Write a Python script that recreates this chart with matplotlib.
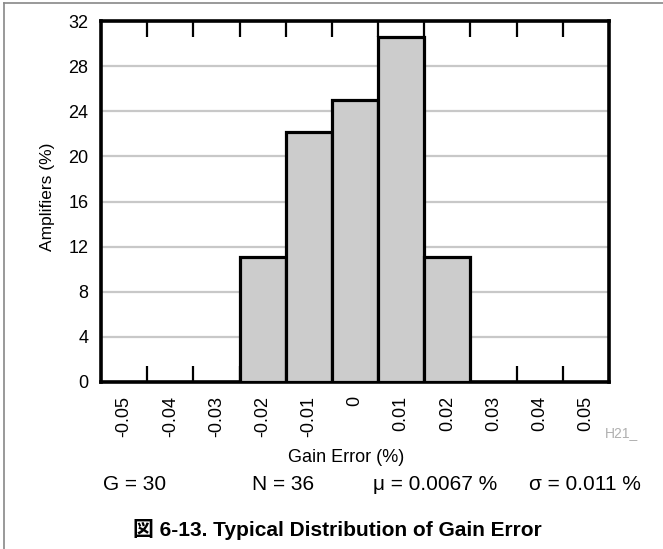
import numpy as np
import matplotlib.pyplot as plt

# histogram data
bin_centers = [-0.02, -0.01, 0.0, 0.01, 0.02]
amplifiers = [11.1, 22.2, 25.0, 30.6, 11.1]
tick_labels = ['-0.05', '-0.04', '-0.03', '-0.02', '-0.01', '0',
               '0.01', '0.02', '0.03', '0.04', '0.05']
stats = ['G = 30', 'N = 36', 'μ = 0.0067 %', 'σ = 0.011 %']

plt.rcParams['font.family'] = ['Liberation Sans', 'DejaVu Sans']

W, H = 663, 549
fig = plt.figure(figsize=(W / 100, H / 100), dpi=100)
# axes box in pixels: left 101, right 609, top 21, bottom 382
ax = fig.add_axes([101 / W, 1 - 382 / H, 508 / W, 361 / H])

ax.bar(bin_centers, amplifiers, width=0.01, color='#cccccc',
       edgecolor='black', linewidth=2.3, zorder=3)

ax.set_xlim(-0.055, 0.055)
ax.set_ylim(0, 32)

# labels at bin centres, marks at bin edges
centers = np.round(np.arange(-0.05, 0.0501, 0.01), 3)
edges = np.round(np.arange(-0.045, 0.0451, 0.01), 3)
ax.set_xticks(centers)
ax.set_xticklabels(tick_labels, rotation=90, fontsize=13)
ax.set_xticks(edges, minor=True)
ax.tick_params(axis='x', which='major', length=0, pad=10)
ax.tick_params(axis='x', which='minor', direction='in', length=11.5,
               width=1.6, color='black', top=True, bottom=True)

ax.set_yticks(np.arange(0, 33, 4))
ax.tick_params(axis='y', length=0, pad=9, labelsize=13)
ax.yaxis.grid(True, color='#c8c8c8', linewidth=1.6)
ax.set_axisbelow(True)

for s in ax.spines.values():
    s.set_linewidth(2.6)

ax.set_ylabel('Amplifiers (%)', fontsize=12.5, va='center')
ax.yaxis.set_label_coords(-0.106, 0.514)
ax.set_xlabel('Gain Error (%)', fontsize=13, va='center')
ax.xaxis.set_label_coords(0.483, -0.208)

fig.text(605 / W, 1 - 433 / H, 'H21_', fontsize=10, color='#b0b0b0',
         va='center')

# statistics row under the chart
stat_x = [103, 252, 373, 529]
for x, s in zip(stat_x, stats):
    fig.text(x / W, 1 - 484 / H, s, fontsize=15, va='center')

fig.text(337 / W, 1 - 530 / H, '図 6-13. Typical Distribution of Gain Error',
         fontsize=15, fontweight='bold', ha='center', va='center',
         family=['Liberation Sans', 'Noto Sans CJK JP'])

# thin grey frame on the left and top of the page
fig.add_artist(plt.Line2D([4 / W, 4 / W], [0, 1 - 3 / H],
                          color='#888888', linewidth=1.2))
fig.add_artist(plt.Line2D([4 / W, 1], [1 - 3 / H, 1 - 3 / H],
                          color='#888888', linewidth=1.2))

fig.savefig('out.png', dpi=100)
